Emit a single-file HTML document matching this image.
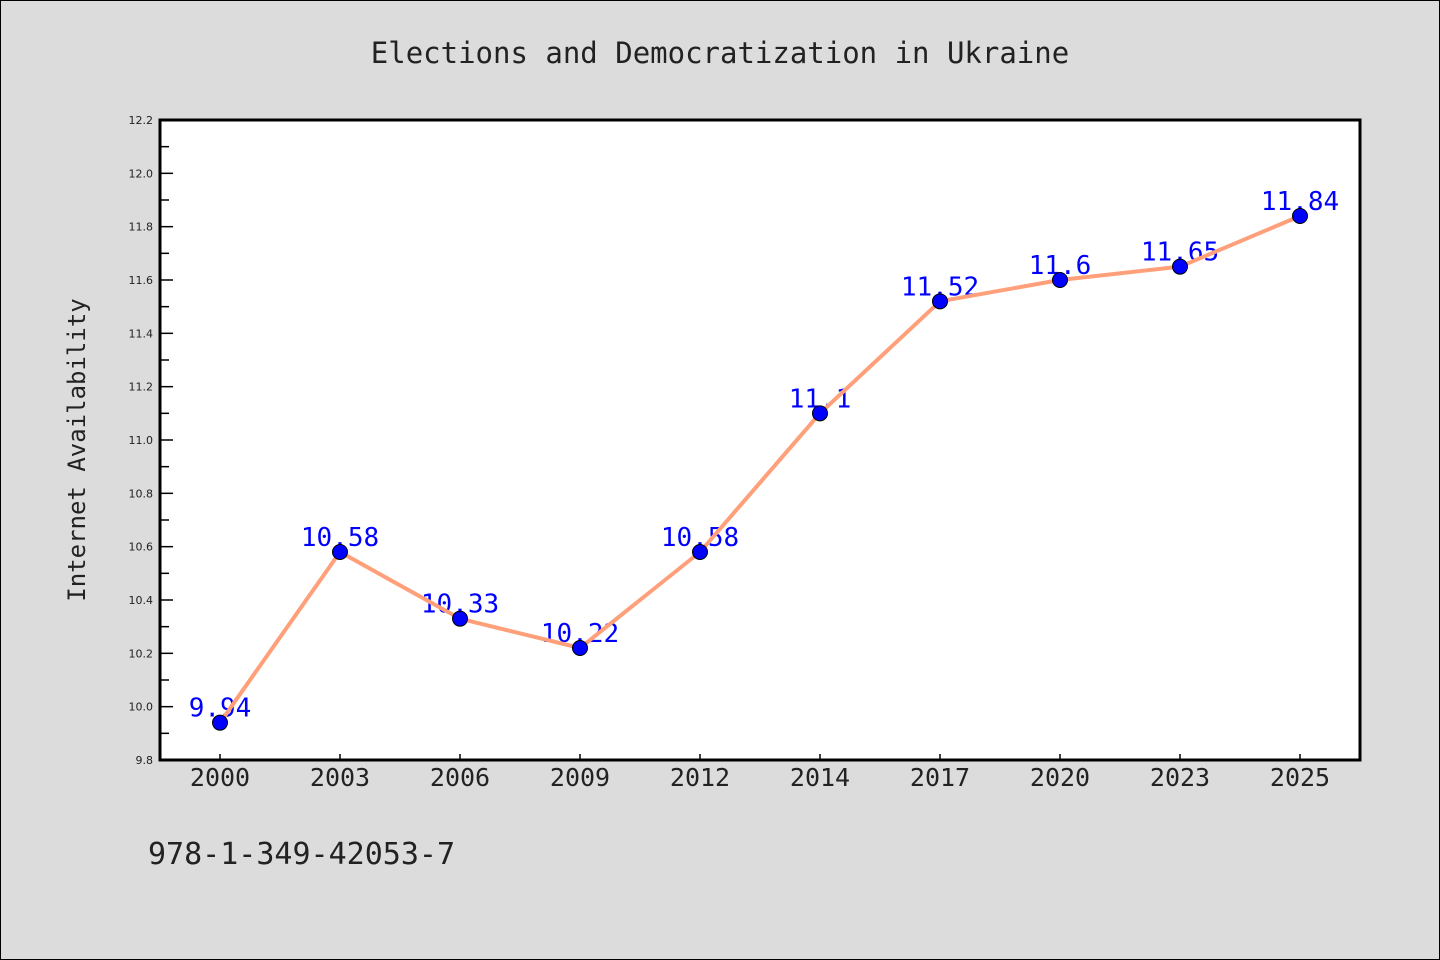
<!DOCTYPE html>
<html><head><meta charset="utf-8"><style>
html,body{margin:0;padding:0;background:#dcdcdc;}
svg{display:block;font-family:"DejaVu Sans Mono","Liberation Mono",monospace;}
</style></head><body>
<svg id="chart" width="1440" height="960">
<rect x="0.5" y="0.5" width="1439" height="959" fill="#dcdcdc" stroke="#000" stroke-width="1"/>
<text x="720" y="63" text-anchor="middle" font-size="29" fill="#222">Elections and Democratization in Ukraine</text>
<rect x="160" y="120" width="1200" height="640" fill="#fff"/>
<g id="yaxis"></g>
<g id="xaxis"></g>
<g id="series"></g>
<rect x="160" y="120" width="1200" height="640" fill="none" stroke="#000" stroke-width="3"/>
<text transform="translate(85,450) rotate(-90)" text-anchor="middle" font-size="24" fill="#222">Internet Availability</text>
<text x="148" y="864" font-size="30" fill="#222">978-1-349-42053-7</text>
</svg>
<script>
const categories = ["2000","2003","2006","2009","2012","2014","2017","2020","2023","2025"];
const values = [9.94,10.58,10.33,10.22,10.58,11.1,11.52,11.6,11.65,11.84];
const valueLabels = ["9.94","10.58","10.33","10.22","10.58","11.1","11.52","11.6","11.65","11.84"];
const yTicks = ["9.8","10.0","10.2","10.4","10.6","10.8","11.0","11.2","11.4","11.6","11.8","12.0","12.2"];
const NS="http://www.w3.org/2000/svg";
const yMin=9.8,yMax=12.2,plotTop=120,plotBottom=760,plotLeft=160;
function yS(v){return plotBottom-(v-yMin)/(yMax-yMin)*(plotBottom-plotTop);}
function xS(i){return plotLeft+60+i*120;}
function mk(tag,attrs,parent){const e=document.createElementNS(NS,tag);for(const k in attrs)e.setAttribute(k,attrs[k]);parent.appendChild(e);return e;}
const ya=document.getElementById('yaxis'),xa=document.getElementById('xaxis'),se=document.getElementById('series');
yTicks.forEach((t,i)=>{
  const v=parseFloat(t),y=yS(v);
  const l=mk('line',{x1:plotLeft,x2:plotLeft+13,y1:y,y2:y,stroke:'#000','stroke-width':1.5},ya);
  
  
  const tx=mk('text',{x:plotLeft-7,y:y+4,'text-anchor':'end','font-size':11,fill:'#222','font-family':'"DejaVu Sans","Liberation Sans",sans-serif'},ya);
  tx.textContent=t;
  
  
  if(i<yTicks.length-1){
    const ym=yS(v+0.1);
    const m=mk('line',{x1:plotLeft,x2:plotLeft+9,y1:ym,y2:ym,stroke:'#000','stroke-width':1.5},ya);
    
    
  }
});
categories.forEach((c,i)=>{
  const x=xS(i);
  const l=mk('line',{x1:x,x2:x,y1:plotBottom,y2:plotBottom-6,stroke:'#000','stroke-width':1.5},xa);
  
  
  const tx=mk('text',{x:x,y:786,'text-anchor':'middle','font-size':25,fill:'#222'},xa);
  tx.textContent=c;
  
  
});
values.forEach((v,i)=>{
  const tx=mk('text',{x:xS(i),y:yS(v)-6,'text-anchor':'middle','font-size':26,fill:'#0000ff'},se);
  tx.textContent=valueLabels[i];
  
  
});
const pl=mk('polyline',{points:values.map((v,i)=>xS(i)+','+yS(v)).join(' '),fill:'none',stroke:'#ffa07a','stroke-width':4,'stroke-linejoin':'round'},se);


values.forEach((v,i)=>{
  const c=mk('circle',{cx:xS(i),cy:yS(v),r:7.5,fill:'#0000ff',stroke:'#000','stroke-width':1},se);
  
  
});
</script>
</body></html>
